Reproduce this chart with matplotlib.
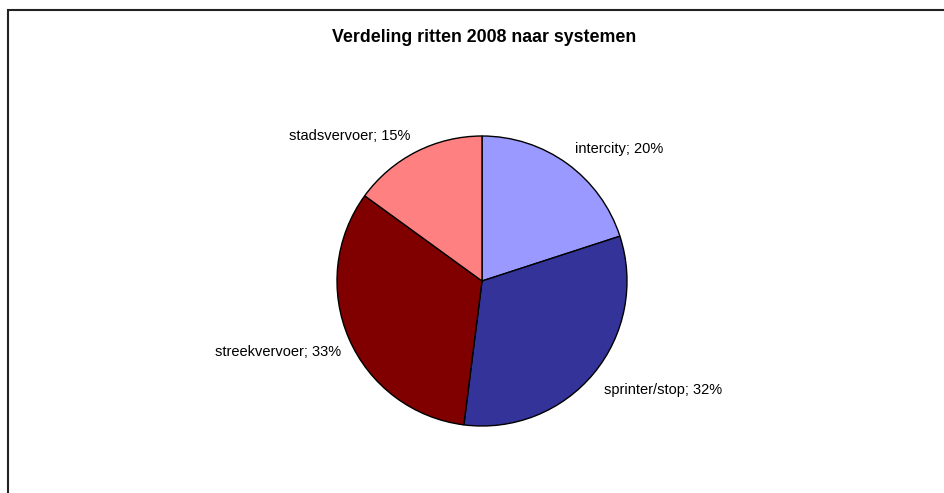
import matplotlib.pyplot as plt
from matplotlib.patches import Rectangle

# data
systemen = ['intercity', 'sprinter/stop', 'streekvervoer', 'stadsvervoer']
aandeel = [20, 32, 33, 15]
kleuren = ['#9999FF', '#333399', '#800000', '#FF8080']

plt.rcParams['font.family'] = ['Liberation Sans', 'DejaVu Sans']

W, H = 944, 493
fig = plt.figure(figsize=(W / 100, H / 100), dpi=100)

# pie axes: centre (482, 281) px, radius 145 px
cx, cy, r = 482, 281, 145
ax = fig.add_axes([(cx - r) / W, (H - cy - r) / H, 2 * r / W, 2 * r / H])

labels = ['%s; %d%%' % (s, a) for s, a in zip(systemen, aandeel)]
wedges, texts = ax.pie(aandeel, labels=labels, colors=kleuren, startangle=90,
                       counterclock=False, labeldistance=1.09,
                       wedgeprops=dict(edgecolor='black', linewidth=1),
                       textprops=dict(fontsize=10.5, color='black'))
# excel pushes the labels a bit further away vertically
for t in texts:
    x, y = t.get_position()
    t.set_position((x + (0.03 if x < 0 and y < 0 else 0), y + (0.03 if y > 0 else -0.06)))

ax.set_xlim(-1, 1)
ax.set_ylim(-1, 1)
ax.set_aspect('equal')
ax.axis('off')

fig.text(484 / W, 1 - 38 / H, 'Verdeling ritten 2008 naar systemen',
         ha='center', va='center', fontsize=12.8, fontweight='bold')

# chart border (right and bottom fall outside the picture)
fig.add_artist(Rectangle((8 / W, -0.1), 1.2, 1.1 - 10 / H, transform=fig.transFigure,
                         fill=False, edgecolor='#222222', linewidth=1.5))

fig.savefig('out.png', dpi=100, facecolor='white')
